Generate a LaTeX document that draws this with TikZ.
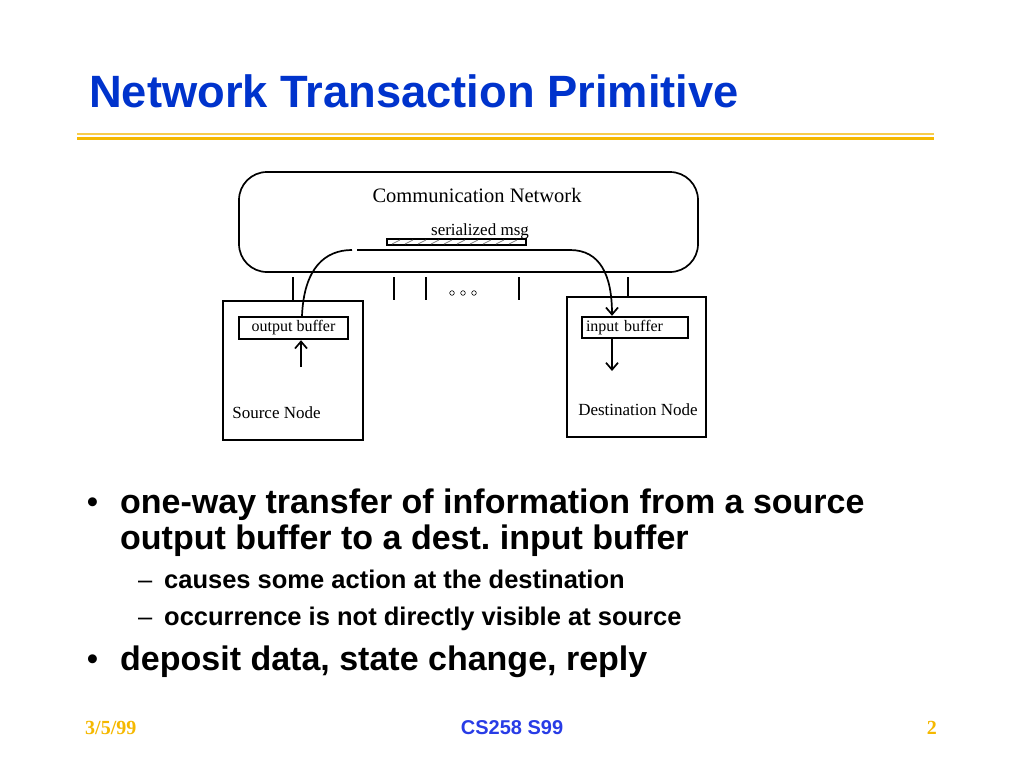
\documentclass[tikz,border=0pt]{standalone}
\usepackage{fontspec}
\setmainfont{Liberation Serif}
\setsansfont{Liberation Sans}
\usepackage{tikz}
\usetikzlibrary{arrows.meta, positioning, calc}

\definecolor{titleblue}{RGB}{0,51,204}
\definecolor{footblue}{RGB}{40,60,230}
\definecolor{rulegold}{RGB}{245,184,0}
\frenchspacing

\begin{document}
\begin{tikzpicture}[x=1pt, y=-1pt,
	box/.style={draw, line width=2.4pt, inner sep=0pt},
	buf/.style={draw, line width=2.4pt, inner sep=0pt, font=\fontsize{16}{16}\selectfont},
	lbl/.style={inner sep=0pt, font=\fontsize{17}{17}\selectfont},
	port/.style={line width=1.8pt},
	link/.style={line width=1.7pt},
	arr/.style={line width=1.7pt, -{Straight Barb[length=7pt, width=12pt]}},
	big/.style={anchor=base west, inner sep=0pt, font=\sffamily\bfseries\fontsize{34}{34}\selectfont},
	small/.style={anchor=base west, inner sep=0pt, font=\sffamily\bfseries\fontsize{25.5}{25.5}\selectfont},
	bulletmark/.style={anchor=base west, inner sep=0pt, font=\sffamily\fontsize{25.5}{25.5}\selectfont},
	dotmark/.style={anchor=base west, inner sep=0pt, font=\sffamily\bfseries\fontsize{31}{31}\selectfont}]
	\useasboundingbox (0,0) rectangle (1024,768);

	% title and rule
	\node[anchor=base west, inner sep=0pt, text=titleblue, font=\sffamily\bfseries\fontsize{45.3}{45.3}\selectfont] (title) at (89,107) {Network Transaction Primitive};
	\draw[rulegold!70, line width=1.2pt] (77,134) -- (934,134);
	\draw[rulegold, line width=3pt] (77,138) -- (934,138);

	% network
	\node[draw, line width=1.7pt, rounded corners=28, minimum width=459, minimum height=100] (net) at (468.5,222) {};
	\node[inner sep=0pt, font=\fontsize{20.5}{20.5}\selectfont] (netlbl) at (477,195) {Communication Network};
	\node[draw, line width=2.2pt, minimum width=139, minimum height=6, inner sep=0pt] (msg) at (456.5,242) {};
	\foreach \x in {392,405,...,515}
		\draw[gray, line width=0.8pt] (\x,244) -- ++(8,-4);
	\node[inner sep=0pt, font=\fontsize{17}{17}\selectfont] (msglbl) at (480,231) {serialized msg};

	% ports
	\foreach \x in {293,394,426,519}
		\draw[port] (\x,277) -- (\x,300);
	\draw[port] (628,277) -- (628,298);
	\foreach \x in {452,463,474}
		\draw[line width=0.6pt] (\x,293) circle (2.3);

	% source node
	\node[box, minimum width=140, minimum height=139] (src) at (293,370.5) {};
	\node[buf, minimum width=109, minimum height=22] (obuf) at (293.5,328) {output buffer};
	\node[lbl] (srclbl) at (276.5,413) {Source Node};
	\coordinate (oin) at (301,367);
	\draw[arr] (oin) -- (oin |- obuf.south);

	% destination node
	\node[buf, minimum width=106, minimum height=21, text width=98, align=left, text depth=4] (ibuf) at (635,327.5) {input buffer};
	\node[box, minimum width=139, minimum height=140] (dst) at (636.5,367) {};
	\node[lbl] (dstlbl) at (638,410) {Destination Node};
	\coordinate (iout) at (612,371);
	\draw[arr] (iout |- ibuf.south) -- (iout);

	% message path
	\coordinate (c1) at (302,0);
	\coordinate (c2) at (352,250);
	\coordinate (c3) at (357,250);
	\coordinate (c4) at (570,250);
	\coordinate (c5) at (612,0);
	\draw[link] (c1 |- obuf.north) .. controls (304,268) and (325,250) .. (c2);
	\draw[arr] (c3) -- (c4) .. controls (600,250) and (612,275) .. (c5 |- ibuf.north);

	% bullets
	\node[dotmark] (b1) at (87,512) {•};
	\node[big] (t1) at (120,513) {one-way transfer of information from a source};
	\node[big] (t2) at (120,549) {output buffer to a dest. input buffer};
	\node[bulletmark] (d1) at (138,588) {–};
	\node[small] (s1) at (164,588) {causes some action at the destination};
	\node[bulletmark] (d2) at (138,625) {–};
	\node[small] (s2) at (164,625) {occurrence is not directly visible at source};
	\node[dotmark] (b2) at (87,669) {•};
	\node[big] (t3) at (120,670) {deposit data, state change, reply};

	% footer
	\node[anchor=base west, inner sep=0pt, text=rulegold, font=\bfseries\fontsize{20}{20}\selectfont] (date) at (85,734) {3/5/99};
	\node[anchor=base, inner sep=0pt, text=footblue, font=\sffamily\bfseries\fontsize{20}{20}\selectfont] (course) at (512,734) {CS258 S99};
	\node[anchor=base east, inner sep=0pt, text=rulegold, font=\bfseries\fontsize{20}{20}\selectfont] (page) at (937,734) {2};
\end{tikzpicture}
\end{document}
